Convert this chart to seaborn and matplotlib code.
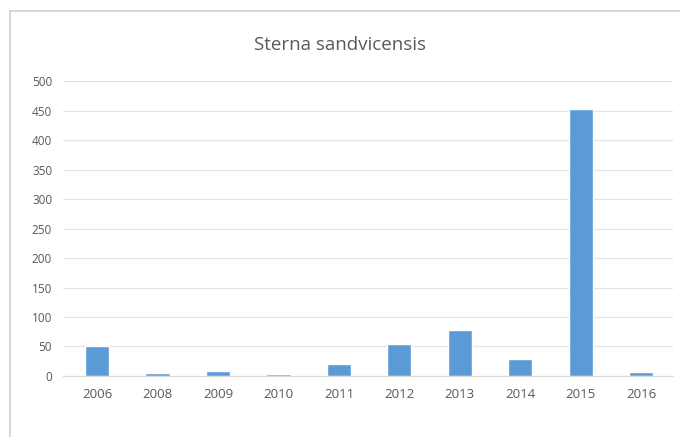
import pandas as pd
import matplotlib.pyplot as plt
import matplotlib.lines as mlines
import seaborn as sns

years = ['2006', '2008', '2009', '2010', '2011', '2012', '2013', '2014', '2015', '2016']
counts = [51, 5, 8, 3, 20, 54, 78, 29, 452, 7]
y_ticks = [0, 50, 100, 150, 200, 250, 300, 350, 400, 450, 500]

df = pd.DataFrame({'year': years, 'count': counts})

sns.set_style('white')
plt.rcParams['font.family'] = ['Open Sans', 'DejaVu Sans']

fig = plt.figure(figsize=(6.8, 4.37), dpi=100)
ax = fig.add_axes([0.093, 0.1396, 0.897, 0.675])

sns.barplot(data=df, x='year', y='count', color='#5b9bd5', width=0.4,
            saturation=1, ax=ax)

ax.set_ylim(0, 500)
ax.set_yticks(y_ticks)
ax.set_xlim(-0.56, 9.53)
ax.yaxis.grid(True, color='#e3e3e3', linewidth=0.9)
ax.set_axisbelow(True)
for side in ['top', 'right', 'left']:
    ax.spines[side].set_visible(False)
ax.spines['bottom'].set_color('#d9d9d9')
ax.tick_params(axis='both', length=0, colors='#595959', labelsize=8.5)
ax.tick_params(axis='x', pad=9, labelsize=9.5)
ax.tick_params(axis='y', pad=8)
ax.set_xlabel('')
ax.set_ylabel('')

fig.text(0.5, 0.897, 'Sterna sandvicensis', ha='center', va='center',
         fontsize=13.5, color='#595959')

# chart frame (open at the bottom/right edge)
fig.add_artist(mlines.Line2D([10 / 680, 10 / 680], [0, 1 - 11 / 437],
                             color='#d0d0d0', linewidth=1.2))
fig.add_artist(mlines.Line2D([10 / 680, 1], [1 - 11 / 437, 1 - 11 / 437],
                             color='#d0d0d0', linewidth=1.2))

fig.savefig('out.png', dpi=100)
